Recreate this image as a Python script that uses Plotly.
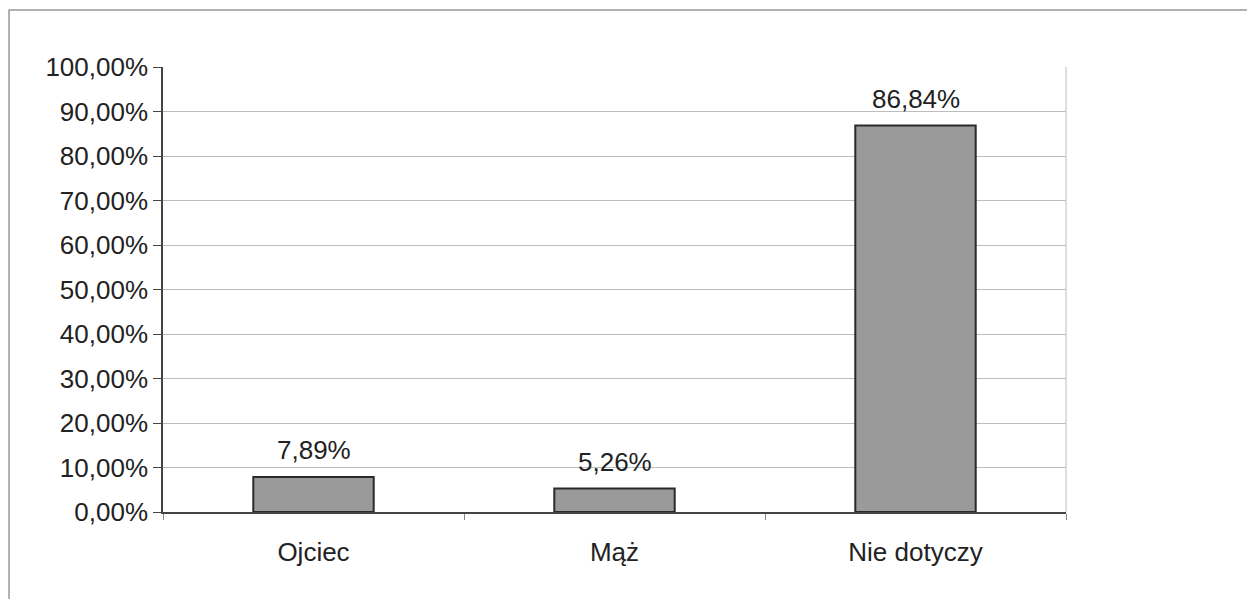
import plotly.graph_objects as go

categories = ["Ojciec", "Mąż", "Nie dotyczy"]
values = [0.0789, 0.0526, 0.8684]
y_ticks = [0, 0.1, 0.2, 0.3, 0.4, 0.5, 0.6, 0.7, 0.8, 0.9, 1.0]

FONT = "Liberation Sans, Arial, sans-serif"
FS = 26

fig = go.Figure()
fig.add_trace(go.Bar(
    x=categories, y=values, width=0.4,
    marker=dict(color="#9a9a9a", line=dict(color="#2a2a2a", width=2)),
    hoverinfo="skip",
))
for c, v in zip(categories, values):
    fig.add_annotation(x=c, y=v, text=f"{v*100:.2f}%".replace(".", ","),
                       showarrow=False, yanchor="bottom", yshift=10,
                       font=dict(family=FONT, size=FS, color="#222"))

fig.update_layout(
    width=1247, height=591,
    margin=dict(l=155, r=189, t=59, b=87),
    paper_bgcolor="white", plot_bgcolor="white",
    separators=", ",
    showlegend=False,
    font=dict(family=FONT, size=FS, color="#222"),
    bargap=0.6,
)
fig.update_yaxes(
    range=[0, 1], tickvals=y_ticks, tickformat=".2%",
    showgrid=True, gridcolor="#bdbdbd", gridwidth=1,
    showline=True, linecolor="#444", linewidth=1.5,
    ticks="outside", ticklen=8, tickcolor="#444",
    zeroline=False, mirror=False,
    tickfont=dict(size=FS),
)
fig.update_xaxes(
    showline=True, linecolor="#444", linewidth=1.5,
    ticks="outside", ticklen=6, tickcolor="#888", tickson="boundaries",
    ticklabelstandoff=16, showgrid=False,
    tickfont=dict(size=FS),
)
# right edge of plot area
fig.add_shape(type="line", xref="paper", yref="paper", x0=1, x1=1, y0=0, y1=1,
              line=dict(color="#bdbdbd", width=1))
# outer chart border
fig.add_shape(type="rect", xref="paper", yref="paper",
              x0=-0.1705, x1=1.206, y0=-0.3, y1=1.128,
              line=dict(color="#999", width=1.5), layer="below")

fig.write_html("out.html")
